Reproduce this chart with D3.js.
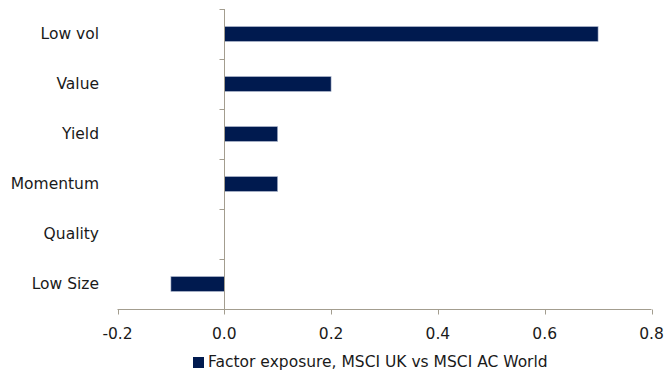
<!DOCTYPE html>
<html>
<head>
<meta charset="utf-8">
<script src="https://cdn.jsdelivr.net/npm/d3@7"></script>
<style>
  html, body { margin: 0; padding: 0; background: #fff; }
  svg text { font-family: "DejaVu Sans", sans-serif; font-size: 15.5px; fill: #1a1a1a; }
</style>
</head>
<body>
<svg id="chart" width="667" height="372"></svg>
<script>
// Factor exposure of MSCI UK relative to MSCI AC World
const factors = ["Low vol", "Value", "Yield", "Momentum", "Quality", "Low Size"];
const exposure = [0.7, 0.2, 0.1, 0.1, 0.0, -0.1];
const xTicks = [-0.2, 0.0, 0.2, 0.4, 0.6, 0.8];
const seriesName = "Factor exposure, MSCI UK vs MSCI AC World";

const axisColor = "#a39d8f";
const barColor = "#001a4f";

const svg = d3.select("#chart");

const x = d3.scaleLinear().domain([-0.2, 0.8]).range([117.5, 651.5]);
const y = d3.scaleBand().domain(factors).range([9, 309])
  .paddingInner(0.7).paddingOuter(0.35);

const rows = factors.map((f, i) => ({ name: f, value: exposure[i] }));

// bars
svg.append("g").selectAll("rect").data(rows).join("rect")
  .attr("x", d => x(Math.min(0, d.value)))
  .attr("y", d => y(d.name))
  .attr("width", d => Math.abs(x(d.value) - x(0)))
  .attr("height", y.bandwidth())
  .attr("fill", barColor)
  .attr("stroke", "#b9c2d6")
  .attr("stroke-width", 0.6);

// category axis on the zero line
const x0 = Math.round(x(0)) + 0.5;
const yAxis = svg.append("g").attr("stroke", axisColor).attr("stroke-width", 1);
yAxis.append("line")
  .attr("x1", x0).attr("x2", x0)
  .attr("y1", y.range()[0]).attr("y2", y.range()[1]);
const step = y.step();
const bounds = d3.range(factors.length + 1).map(i => y.range()[0] + i * step);
yAxis.selectAll("line.tick").data(bounds).join("line")
  .attr("class", "tick")
  .attr("x1", x0 - 5).attr("x2", x0)
  .attr("y1", d => Math.round(d) + 0.5).attr("y2", d => Math.round(d) + 0.5);

// category labels
svg.append("g").selectAll("text").data(factors).join("text")
  .attr("x", 99)
  .attr("y", d => y(d) + y.bandwidth() / 2 + 4.8)
  .attr("text-anchor", "end")
  .text(d => d);

// value axis
const yBase = Math.round(y.range()[1]) + 0.5;
const xAxis = svg.append("g").attr("stroke", axisColor).attr("stroke-width", 1);
xAxis.append("line")
  .attr("x1", x.range()[0]).attr("x2", x.range()[1])
  .attr("y1", yBase).attr("y2", yBase);
xAxis.selectAll("line.tick").data(xTicks).join("line")
  .attr("class", "tick")
  .attr("x1", d => Math.round(x(d)) + 0.5).attr("x2", d => Math.round(x(d)) + 0.5)
  .attr("y1", yBase).attr("y2", yBase + 5);

// tick labels use a plain hyphen for negatives
const fmt = d => d.toFixed(1);
svg.append("g").selectAll("text").data(xTicks).join("text")
  .attr("x", d => x(d))
  .attr("y", 339)
  .attr("text-anchor", "middle")
  .text(fmt);

// legend
const legend = svg.append("g");
legend.append("rect")
  .attr("x", 193).attr("y", 357).attr("width", 11).attr("height", 11)
  .attr("fill", barColor);
legend.append("text")
  .attr("x", 208).attr("y", 367)
  .text(seriesName);
</script>
</body>
</html>
